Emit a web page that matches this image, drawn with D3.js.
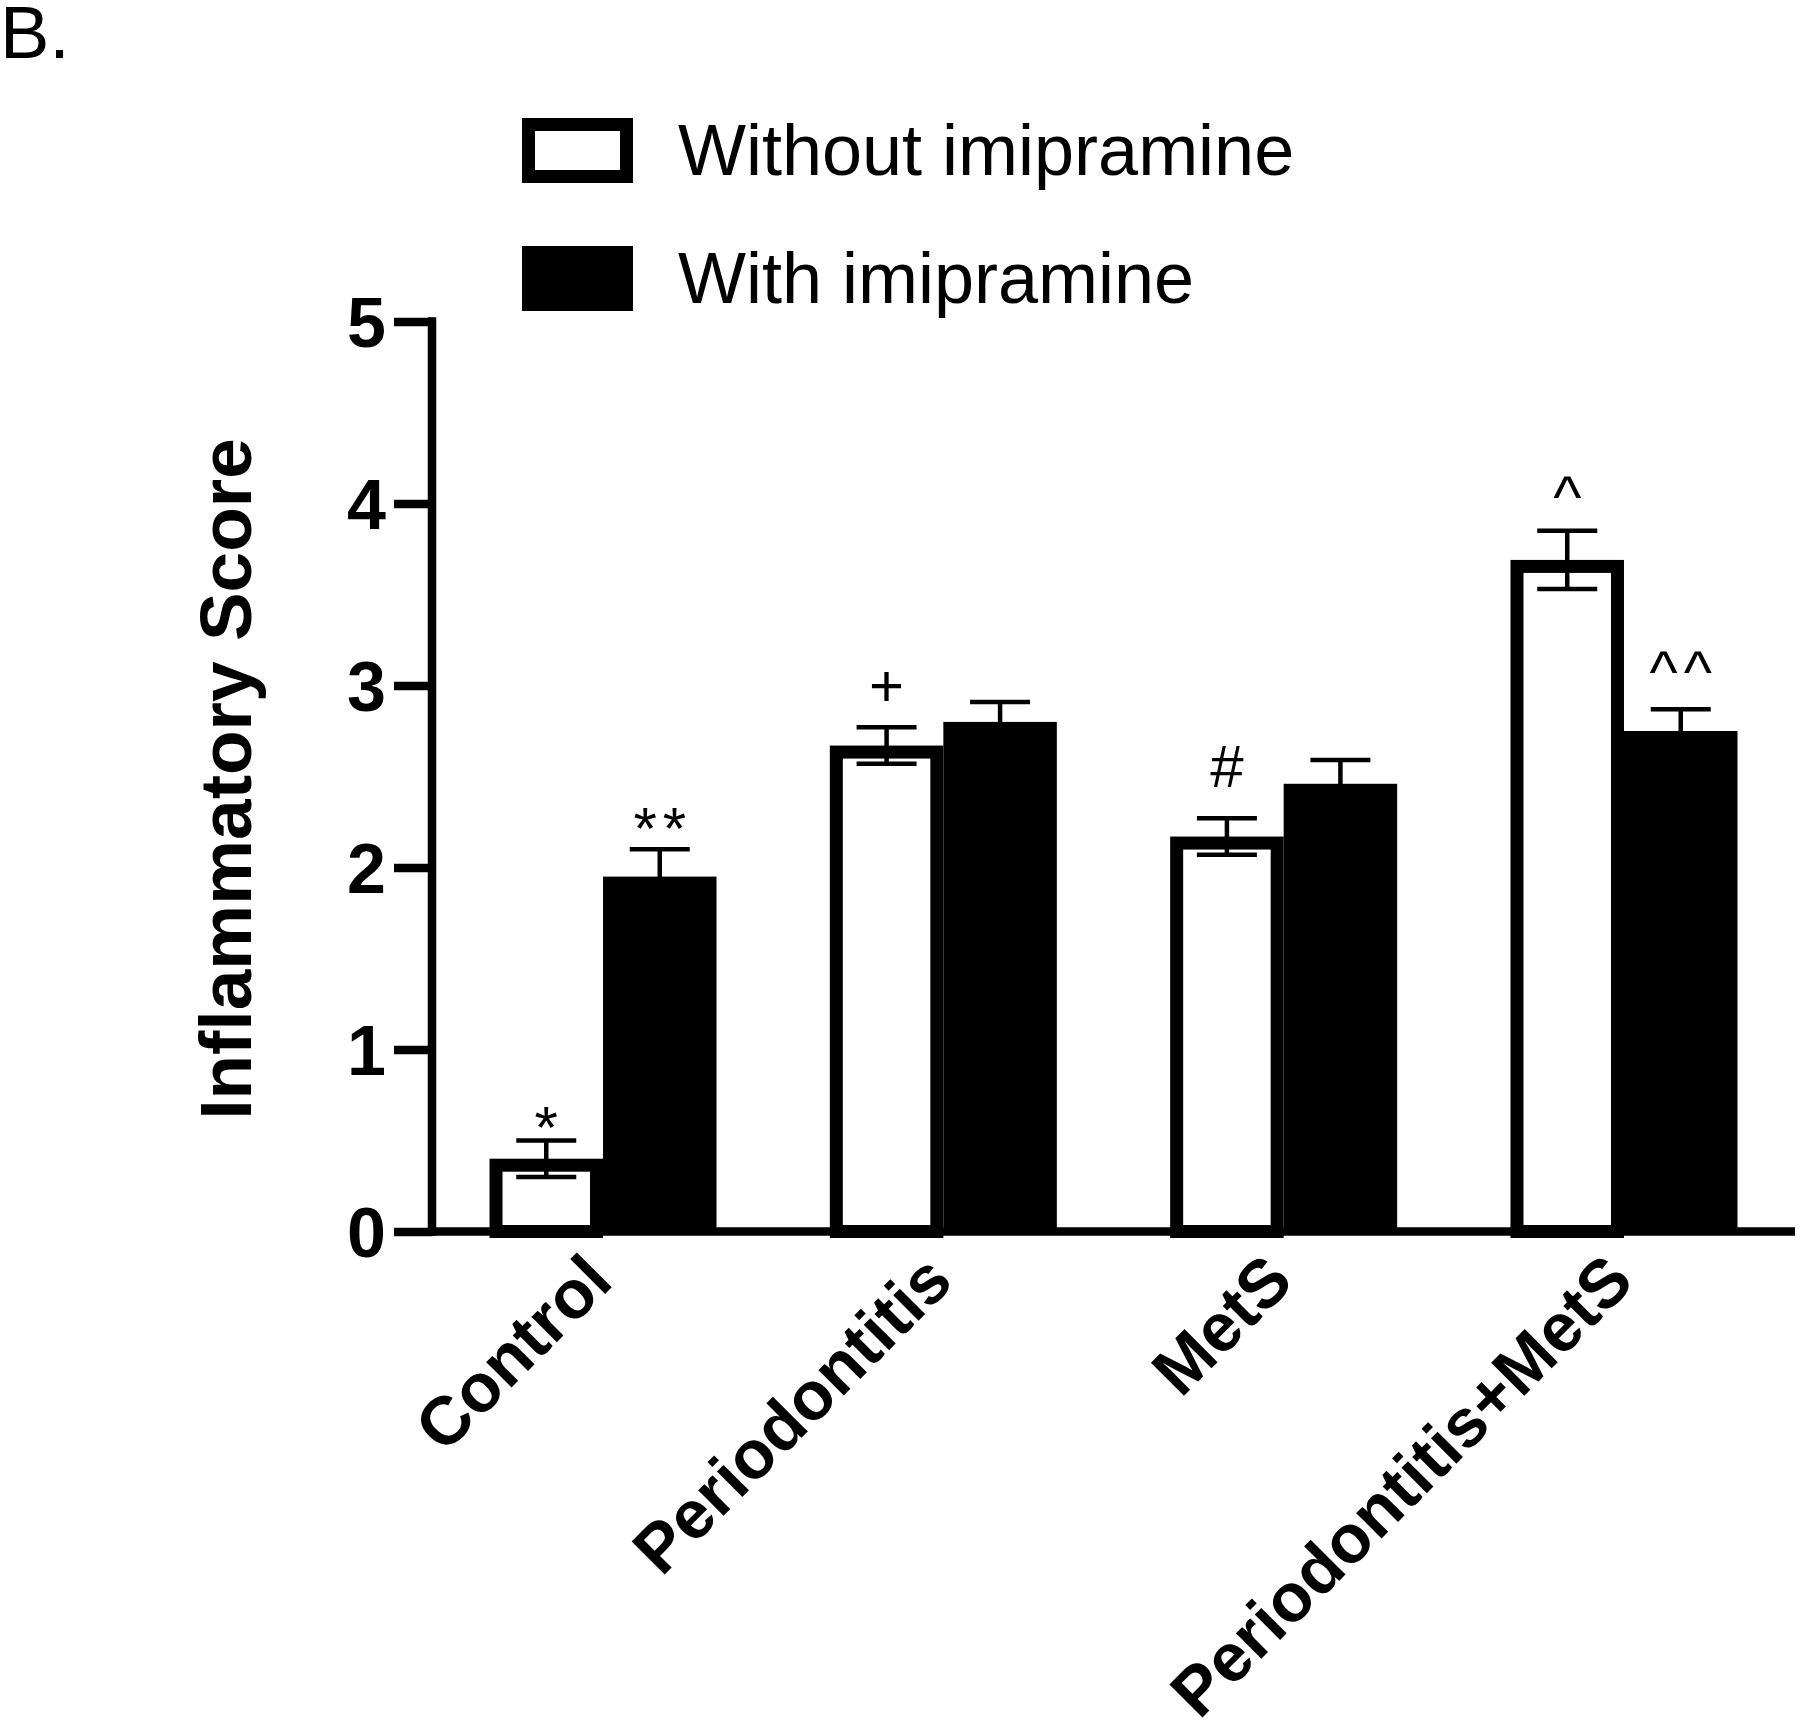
<!DOCTYPE html>
<html>
<head>
<meta charset="utf-8">
<script src="https://cdn.jsdelivr.net/npm/d3@7"></script>
<style>
  html, body { margin: 0; padding: 0; background: #fff; }
  svg { display: block; }
</style>
</head>
<body>
<script>
// ---- data ----
const categories = ["Control", "Periodontitis", "MetS", "Periodontitis+MetS"];
const seriesNames = ["Without imipramine", "With imipramine"];
const withoutValues = [0.40, 2.67, 2.17, 3.69];
const withoutErrors = [0.10, 0.10, 0.10, 0.16];
const withValues = [1.95, 2.80, 2.46, 2.75];
const withErrors = [0.15, 0.11, 0.13, 0.12];
const withoutMarks = ["*", "+", "#", "^"];
const withoutMarkAt = [0.46, 2.89, 2.44, 3.92];
const withMarks = ["**", "", "", "^^"];
const withMarkAt = [2.10, null, null, 2.96];
const yTicks = [0, 1, 2, 3, 4, 5];
const yTitle = "Inflammatory Score";
const panelLabel = "B.";

// ---- layout ----
const W = 1800, H = 1731;
const FONT = "'Liberation Sans', Arial, Helvetica, sans-serif";
const svg = d3.select("body").append("svg").attr("width", W).attr("height", H)
  .style("font-family", FONT);

const axisX = 432;
const y = d3.scaleLinear().domain([0, 5]).range([1231.5, 321.5]);
const x0 = d3.scaleBand().domain(categories).range([axisX, 1795])
  .paddingInner(0.333).paddingOuter(0.169);
const x1 = d3.scaleBand().domain(seriesNames).range([0, x0.bandwidth()]);
const bw = x1.bandwidth();
const border = 13;
const AX = 8.5;

const rows = categories.map((c, i) => ({
  cat: c,
  vals: [
    { s: seriesNames[0], v: withoutValues[i], e: withoutErrors[i], m: withoutMarks[i], mAt: withoutMarkAt[i] },
    { s: seriesNames[1], v: withValues[i], e: withErrors[i], m: withMarks[i], mAt: withMarkAt[i] }
  ]
}));

const g = svg.append("g");
const groups = g.selectAll("g.grp").data(rows).join("g")
  .attr("class", "grp")
  .attr("transform", d => `translate(${x0(d.cat)},0)`);

// bars
groups.selectAll("rect.bar").data(d => d.vals).join("rect")
  .attr("class", "bar")
  .attr("x", d => d.s === seriesNames[0] ? x1(d.s) + border / 2 : x1(d.s))
  .attr("y", d => d.s === seriesNames[0] ? y(d.v) + border / 2 : y(d.v))
  .attr("width", d => d.s === seriesNames[0] ? bw - border : bw)
  .attr("height", d => d.s === seriesNames[0] ? y(0) - y(d.v) - border / 2 : y(0) - y(d.v))
  .attr("fill", d => d.s === seriesNames[0] ? "#fff" : "#000")
  .attr("stroke", d => d.s === seriesNames[0] ? "#000" : "none")
  .attr("stroke-width", border);

// error bars
const capW = 60, eW = 4.5;
const eb = groups.selectAll("g.err").data(d => d.vals).join("g").attr("class", "err")
  .attr("transform", d => `translate(${x1(d.s) + bw / 2},0)`);
eb.append("line").attr("x1", 0).attr("x2", 0)
  .attr("y1", d => y(d.v + d.e)).attr("y2", d => y(d.v - d.e))
  .attr("stroke", "#000").attr("stroke-width", eW);
eb.append("line").attr("x1", -capW / 2).attr("x2", capW / 2)
  .attr("y1", d => y(d.v + d.e)).attr("y2", d => y(d.v + d.e))
  .attr("stroke", "#000").attr("stroke-width", eW);
eb.append("line").attr("x1", -capW / 2).attr("x2", capW / 2)
  .attr("y1", d => y(d.v - d.e)).attr("y2", d => y(d.v - d.e))
  .attr("stroke", "#000").attr("stroke-width", eW);

// significance marks
groups.selectAll("text.mark").data(d => d.vals.filter(v => v.m)).join("text")
  .attr("class", "mark")
  .attr("x", d => x1(d.s) + bw / 2 + 3)
  .attr("y", d => y(d.mAt))
  .attr("text-anchor", "middle")
  .attr("font-size", 60)
  .attr("letter-spacing", "6px")
  .attr("fill", "#000")
  .text(d => d.m);

// y axis
const yAxis = svg.append("g").attr("transform", `translate(${axisX},0)`)
  .call(d3.axisLeft(y).tickValues(yTicks).tickFormat(d3.format("d")).tickSize(38).tickPadding(8));
yAxis.select(".domain").remove();
yAxis.selectAll(".tick line").attr("stroke", "#000").attr("stroke-width", AX);
yAxis.selectAll(".tick text")
  .attr("font-family", FONT).attr("font-size", 70).attr("font-weight", "bold")
  .attr("fill", "#000").attr("dy", "0.35em");
svg.append("line").attr("x1", axisX).attr("x2", axisX)
  .attr("y1", y(5) - AX / 2).attr("y2", y(0) + AX / 2)
  .attr("stroke", "#000").attr("stroke-width", AX);

// x axis
svg.append("line").attr("x1", axisX).attr("x2", 1795)
  .attr("y1", y(0)).attr("y2", y(0))
  .attr("stroke", "#000").attr("stroke-width", AX);
svg.append("g").selectAll("text").data(categories).join("text")
  .attr("transform", d => `translate(${x0(d) + x0.bandwidth() / 2 + 12},1284) rotate(-45)`)
  .attr("text-anchor", "end")
  .attr("font-size", 68).attr("font-weight", "bold").attr("fill", "#000")
  .text(d => d);

// y title
svg.append("text")
  .attr("transform", `translate(251,779) rotate(-90)`)
  .attr("text-anchor", "middle")
  .attr("font-size", 73).attr("font-weight", "bold").attr("fill", "#000")
  .text(yTitle);

// legend
const legend = svg.append("g");
const legY = [118, 246];
const leg = legend.selectAll("g").data(seriesNames).join("g")
  .attr("transform", (d, i) => `translate(522,${legY[i]})`);
leg.append("rect")
  .attr("x", (d, i) => i === 0 ? border / 2 : 0)
  .attr("y", (d, i) => i === 0 ? border / 2 : 0)
  .attr("width", (d, i) => i === 0 ? 111 - border : 111)
  .attr("height", (d, i) => i === 0 ? 65 - border : 65)
  .attr("fill", (d, i) => i === 0 ? "#fff" : "#000")
  .attr("stroke", (d, i) => i === 0 ? "#000" : "none")
  .attr("stroke-width", border);
leg.append("text")
  .attr("x", 156).attr("y", 57)
  .attr("font-size", 72).attr("fill", "#000")
  .text(d => d);

// panel label
svg.append("text").attr("x", 0).attr("y", 58)
  .attr("font-size", 74).attr("fill", "#000").text(panelLabel);
</script>
</body>
</html>
